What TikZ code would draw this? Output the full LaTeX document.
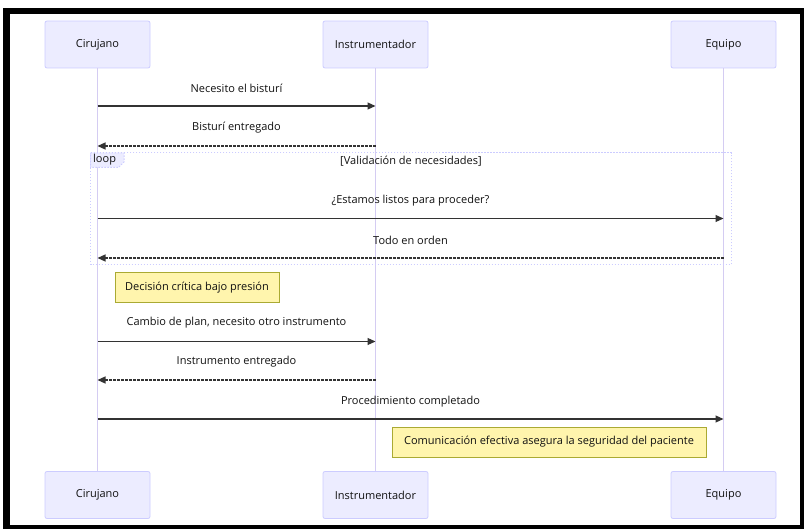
\documentclass[tikz,border=0pt]{standalone}
\usepackage{fontspec}
\setmainfont{Open Sans}
\usetikzlibrary{arrows.meta}
\definecolor{actfill}{HTML}{ECECFF}
\definecolor{actdraw}{HTML}{CCCCFF}
\definecolor{lifeln}{HTML}{D4CCF2}
\definecolor{notefill}{HTML}{FFF5AD}
\definecolor{notedraw}{HTML}{AAAA33}
\definecolor{msgcol}{HTML}{333333}
\definecolor{txtcol}{HTML}{111111}
\tikzset{
  actor/.style={draw=actdraw, fill=actfill, line width=0.8pt, rounded corners=2pt,
    minimum width=105pt, minimum height=47pt, inner sep=0pt, text=txtcol,
    font=\fontsize{11}{13}\selectfont},
  lifeline/.style={draw=lifeln, line width=1.4pt},
  msg/.style={draw=msgcol, line width=1.2pt, -{Triangle[length=8pt,width=7pt]}},
  reply/.style={msg, dash pattern=on 2.5pt off 1.5pt},
  msglabel/.style={text=txtcol, font=\fontsize{11}{13}\selectfont, inner sep=0pt},
  notebox/.style={draw=notedraw, fill=notefill, line width=0.8pt, inner sep=0pt,
    text=txtcol, font=\fontsize{11}{13}\selectfont},
  loopframe/.style={draw=actdraw, line width=1pt, dash pattern=on 1.5pt off 1.5pt},
}
\begin{document}
\begin{tikzpicture}[x=1pt,y=-1pt]
\useasboundingbox (0,0) rectangle (804,529);
\fill[white] (0,0) rectangle (804,529);
\fill[black] (3,8) rectangle (804,529);
\fill[white] (10,14) rectangle (800,525);

% actors
\node[actor] (ct) at (97.5,44.5) {Cirujano};
\node[actor] (it) at (375.5,44.5) {Instrumentador};
\node[actor] (et) at (723.5,44.5) {Equipo};
\node[actor] (cb) at (97.5,495) {Cirujano};
\node[actor] (ib) at (375.5,495) {Instrumentador};
\node[actor] (eb) at (723.5,495) {Equipo};

% lifelines
\draw[lifeline] (ct.south) -- (cb.north);
\draw[lifeline] (it.south) -- (ib.north);
\draw[lifeline] (et.south) -- (eb.north);

% loop frame
\draw[loopframe] (90.5,153) rectangle (731,265);
\draw[loopframe, fill=actfill] (90.5,153) -- (124,153) -- (124,162) -- (118.5,167.5) -- (90.5,167.5) -- cycle;
\node[msglabel, anchor=west] (looplbl) at (93,160) {loop};
\node[msglabel] (loopcond) at (411,161) {[Validación de necesidades]};

% message anchors on lifelines
\foreach \n/\y in {1/106,2/146,3/218.5,4/258,5/341.5,6/380,7/419}{
  \coordinate (c\n) at (97.5,\y);
  \coordinate (i\n) at (375.5,\y);
  \coordinate (e\n) at (723.5,\y);
}

\draw[msg] (c1) -- (i1);
\node[msglabel] (m1) at (236.5,88) {Necesito el bisturí};
\draw[reply] (i2) -- (c2);
\node[msglabel] (m2) at (236.5,128) {Bisturí entregado};
\draw[msg] (c3) -- (e3);
\node[msglabel] (m3) at (410.5,200.5) {¿Estamos listos para proceder?};
\draw[reply] (e4) -- (c4);
\node[msglabel] (m4) at (410.5,240) {Todo en orden};

\node[notebox, minimum width=164pt, minimum height=30pt] (n1) at (197,287.5) {Decisión crítica bajo presión};

\draw[msg] (c5) -- (i5);
\node[msglabel] (m5) at (236.5,323) {Cambio de plan, necesito otro instrumento};
\draw[reply] (i6) -- (c6);
\node[msglabel] (m6) at (236.5,362) {Instrumento entregado};
\draw[msg] (c7) -- (e7);
\node[msglabel] (m7) at (410.5,401.5) {Procedimiento completado};

\node[notebox, minimum width=314pt, minimum height=30pt] (n2) at (549,442) {Comunicación efectiva asegura la seguridad del paciente};
\end{tikzpicture}
\end{document}
